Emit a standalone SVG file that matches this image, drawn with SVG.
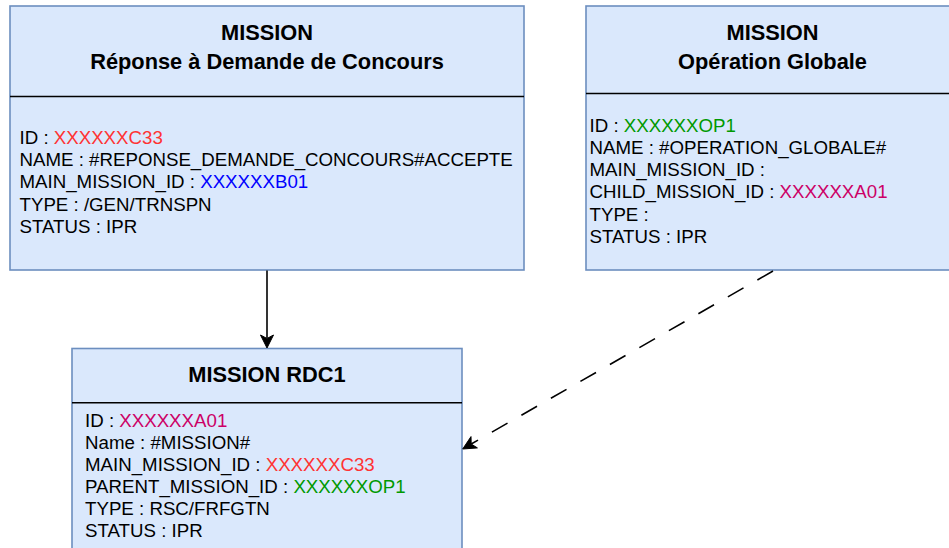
<svg xmlns="http://www.w3.org/2000/svg" width="949" height="548" viewBox="0 0 949 548">
<style>
.box{fill:#dae8fc;stroke:#6c8ebf;stroke-width:1.6}
.div{stroke:#000;stroke-width:1.5;fill:none}
.title{font-family:"Liberation Sans",Arial,Helvetica,sans-serif;font-weight:bold;font-size:21.8px;fill:#000;text-anchor:middle}
.body{font-family:"Liberation Sans",Arial,Helvetica,sans-serif;font-size:18.7px;fill:#000}
.red{fill:#ff3333}.blue{fill:#0000ff}.green{fill:#009900}.mag{fill:#cc0066}
.edge{stroke:#000;stroke-width:1.6;fill:none}
.head{fill:#000;stroke:#000;stroke-width:1}
</style>
<g id="mission-rdc">
<rect class="box" x="10" y="6" width="514" height="264"/>
<line class="div" x1="10" y1="96.5" x2="524" y2="96.5"/>
<text class="title" x="267" y="40">MISSION</text>
<text class="title" x="267" y="69">Réponse à Demande de Concours</text>
<text class="body" x="19.5" y="144">ID : <tspan class="red">XXXXXXC33</tspan></text>
<text class="body" x="19.5" y="166.2">NAME : #REPONSE_DEMANDE_CONCOURS#ACCEPTE</text>
<text class="body" x="19.5" y="188.4">MAIN_MISSION_ID : <tspan class="blue">XXXXXXB01</tspan></text>
<text class="body" x="19.5" y="210.6">TYPE : /GEN/TRNSPN</text>
<text class="body" x="19.5" y="232.8">STATUS : IPR</text>
</g>
<g id="mission-og">
<rect class="box" x="586" y="6" width="373" height="264"/>
<line class="div" x1="586" y1="93.5" x2="959" y2="93.5"/>
<text class="title" x="772.5" y="40">MISSION</text>
<text class="title" x="772.5" y="69">Opération Globale</text>
<text class="body" x="589.5" y="131.7">ID : <tspan class="green">XXXXXXOP1</tspan></text>
<text class="body" x="589.5" y="153.9">NAME : #OPERATION_GLOBALE#</text>
<text class="body" x="589.5" y="176.1">MAIN_MISSION_ID :</text>
<text class="body" x="589.5" y="198.3">CHILD_MISSION_ID : <tspan class="mag">XXXXXXA01</tspan></text>
<text class="body" x="589.5" y="220.5">TYPE :</text>
<text class="body" x="589.5" y="242.7">STATUS : IPR</text>
</g>
<g id="mission-rdc1">
<rect class="box" x="72" y="348.5" width="390" height="215"/>
<line class="div" x1="72" y1="402.7" x2="462" y2="402.7"/>
<text class="title" x="267" y="382">MISSION RDC1</text>
<text class="body" x="85" y="427.3">ID : <tspan class="mag">XXXXXXA01</tspan></text>
<text class="body" x="85" y="449.3">Name : #MISSION#</text>
<text class="body" x="85" y="471.3">MAIN_MISSION_ID : <tspan class="red">XXXXXXC33</tspan></text>
<text class="body" x="85" y="493.3">PARENT_MISSION_ID : <tspan class="green">XXXXXXOP1</tspan></text>
<text class="body" x="85" y="515.3">TYPE : RSC/FRFGTN</text>
<text class="body" x="85" y="537.3">STATUS : IPR</text>
</g>
<g id="connectors">
<line class="edge" x1="267" y1="270.5" x2="267" y2="338"/>
<polygon class="head" points="267,348 260.5,335 267,338.5 273.5,335"/>
<line class="edge" x1="773" y1="271" x2="471.2" y2="444" stroke-dasharray="18 16"/>
<polygon class="head" points="462.7,449 477.4,447.9 471.2,444 471,436.6"/>
</g>
</svg>
